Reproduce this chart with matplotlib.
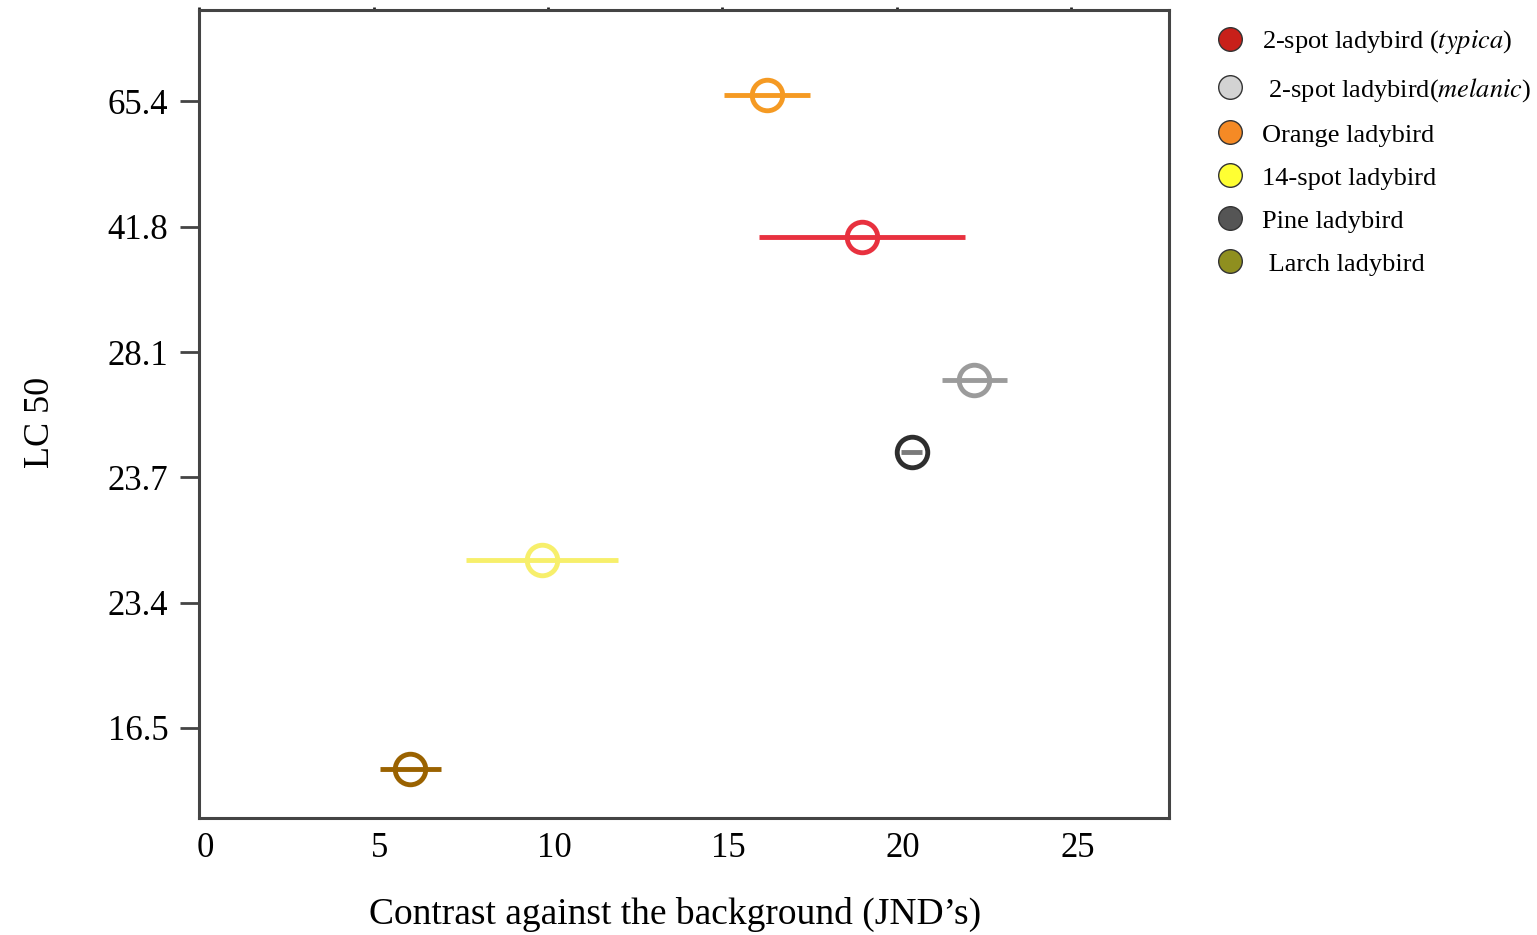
import matplotlib
matplotlib.use("Agg")
import matplotlib.pyplot as plt
from matplotlib.lines import Line2D
from matplotlib.transforms import ScaledTranslation

plt.rcParams['font.family'] = ['Liberation Serif', 'DejaVu Serif']
plt.rcParams['mathtext.fontset'] = 'stix'

# --- data ---
species = ['2-spot ladybird (typica)', '2-spot ladybird (melanic)', 'Orange ladybird',
           '14-spot ladybird', 'Pine ladybird', 'Larch ladybird']
contrast = [18.99, 22.22, 16.27, 9.83, 20.42, 6.06]      # JND's
contrast_err = [2.95, 0.94, 1.23, 2.19, 0.30, 0.87]
lc50_rank = [3.92, 2.78, 5.05, 1.34, 2.20, -0.33]         # position on the ordinal LC50 axis
lc50_labels = ['16.5', '23.4', '23.7', '28.1', '41.8', '65.4']
x_ticks = [0, 5, 10, 15, 20, 25]

point_colors = ['#E8313F', '#9B9B9B', '#F59A23', '#F7EF6B', '#2E2E2E', '#9A6200']
bar_colors = ['#E8313F', '#9B9B9B', '#F59A23', '#F7EF6B', '#7A7A7A', '#9A6200']
legend_colors = ['#C8201A', '#D3D3D3', '#F58A25', '#FFFF33', '#555555', '#8F8F1F']
legend_labels = ['2-spot ladybird ($\\mathit{typica}$)', ' 2-spot ladybird($\\mathit{melanic}$)',
                 'Orange ladybird', '14-spot ladybird', 'Pine ladybird', ' Larch ladybird']

fig = plt.figure(figsize=(15.37, 9.35), dpi=100)
ax = fig.add_axes([0.1295, 0.1251, 0.6311, 0.8642])

for i in range(len(species)):
    ax.errorbar(contrast[i], lc50_rank[i], xerr=contrast_err[i], fmt='o',
                mfc='none', mec=point_colors[i], ms=22, mew=3.5,
                ecolor=bar_colors[i], elinewidth=3.5, capsize=0, zorder=3)

ax.set_xlim(0, 27.8)
ax.set_ylim(-0.72, 5.73)

ax.set_yticks(range(len(lc50_labels)))
ax.set_yticklabels(lc50_labels, fontsize=25)
ax.set_xticks(x_ticks)
ax.set_xticklabels([str(t) for t in x_ticks], fontsize=25)

for s in ax.spines.values():
    s.set_color('#444444')
    s.set_linewidth(2.2)

ax.tick_params(axis='y', direction='out', length=14, width=2, color='#444444', pad=8)
ax.tick_params(axis='x', bottom=False, top=True, direction='out', length=2, width=2,
               color='#222222', labelbottom=True, pad=8)
for lbl in ax.get_xticklabels():
    lbl.set_transform(lbl.get_transform() + ScaledTranslation(0.06, 0, fig.dpi_scale_trans))

ax.set_xlabel("Contrast against the background (JND’s)", fontsize=27)
ax.xaxis.set_label_coords(0.491, -0.097)
ax.set_ylabel('LC 50', fontsize=26)
ax.yaxis.set_label_coords(-0.146, 0.49)

handles = [Line2D([], [], marker='o', linestyle='none', ms=17, mfc=c,
                  mec='#333333', mew=1) for c in legend_colors]
fig.legend(handles, legend_labels, loc='upper left', bbox_to_anchor=(0.783, 0.981),
           frameon=False, fontsize=19, labelspacing=0.74, handletextpad=0.6,
           handlelength=1.2, borderaxespad=0)

fig.savefig('out.png', dpi=100)
